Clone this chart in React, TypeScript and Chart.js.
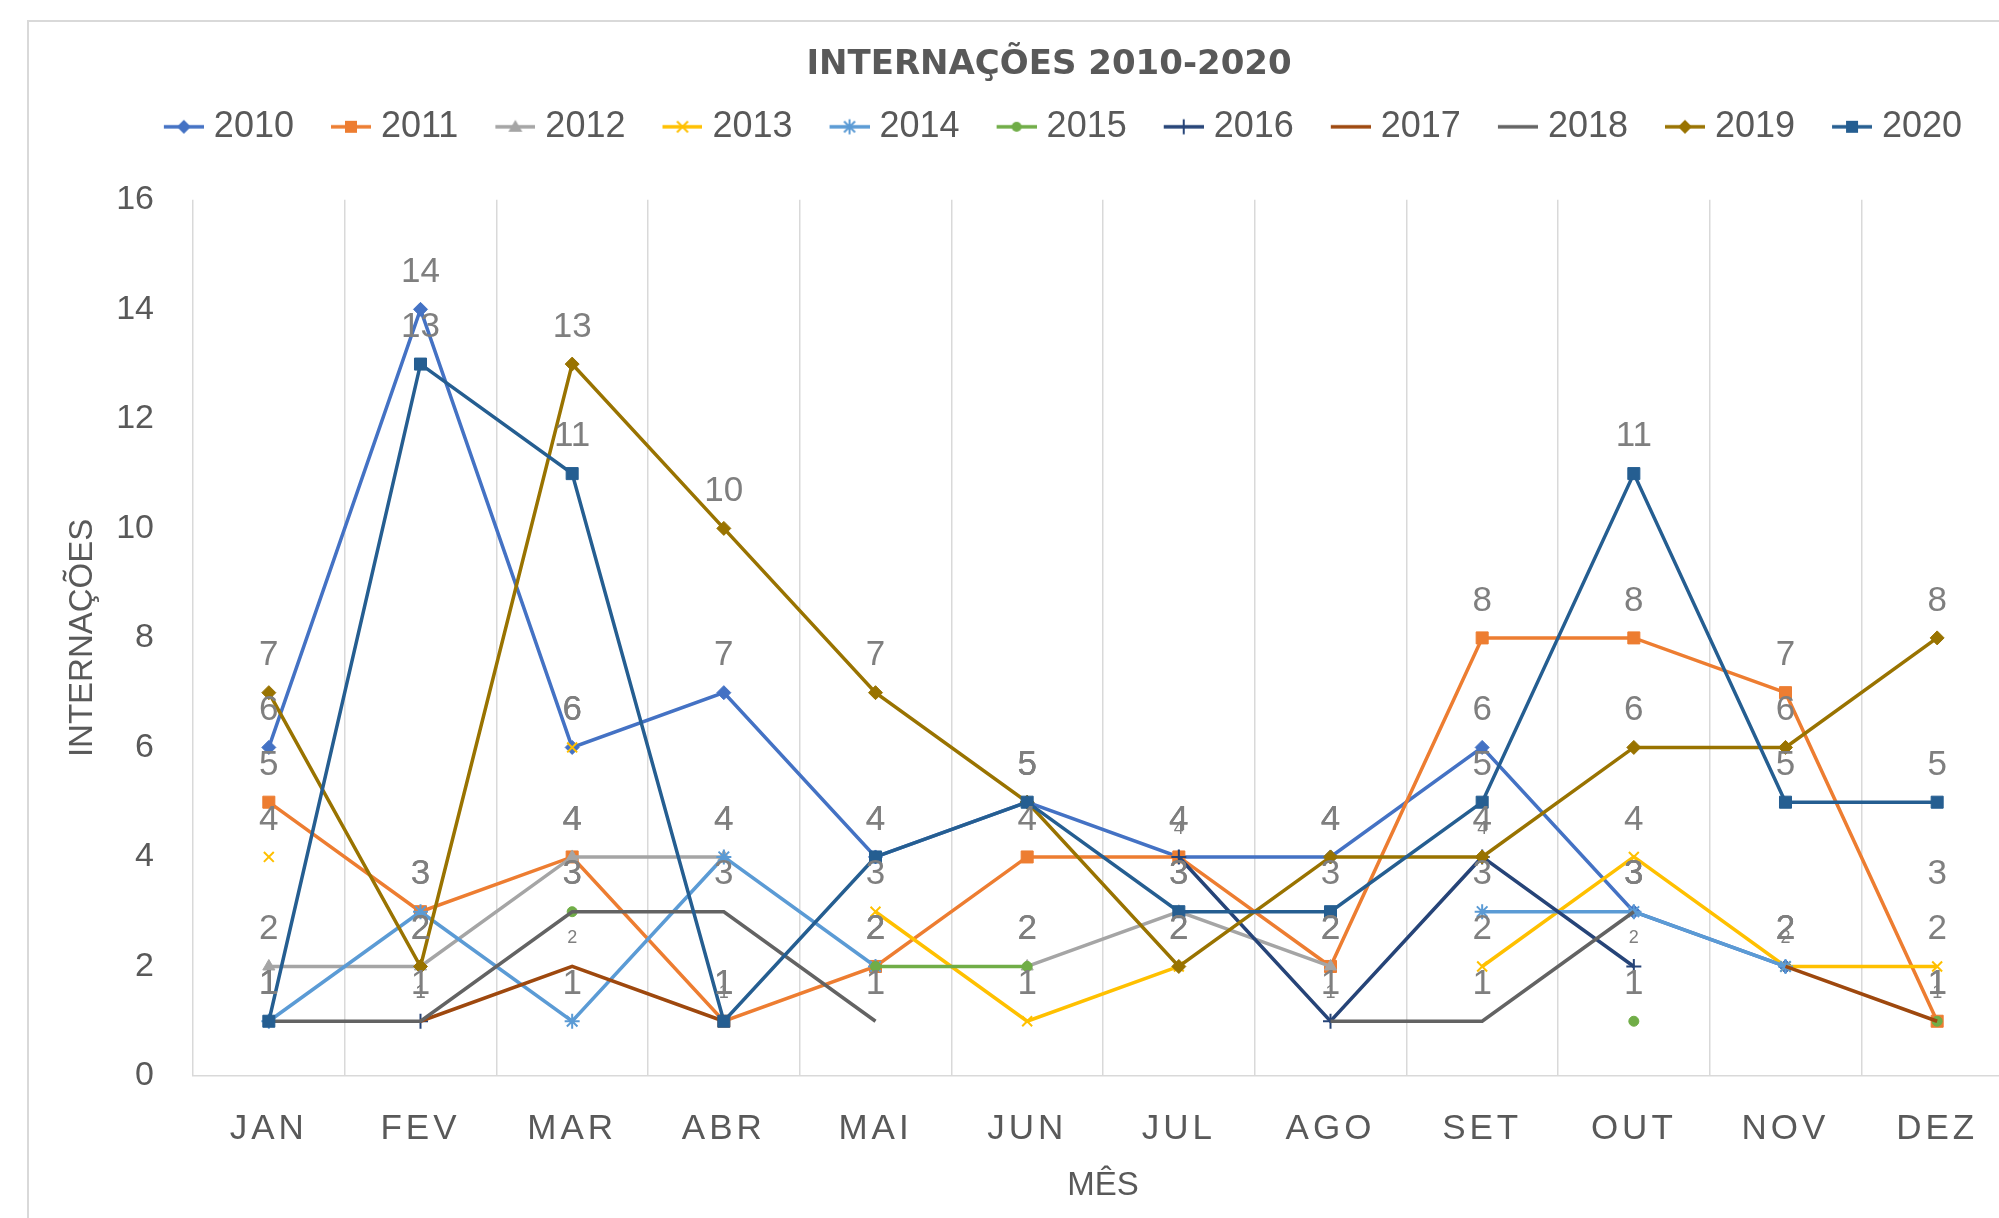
import React, { useEffect, useRef } from 'react';
import { Chart, registerables } from 'chart.js';

Chart.register(...registerables);

// ---------- DATA ----------
const MONTHS = ['JAN', 'FEV', 'MAR', 'ABR', 'MAI', 'JUN', 'JUL', 'AGO', 'SET', 'OUT', 'NOV', 'DEZ'];
const Y_TICK_VALUES = [0, 2, 4, 6, 8, 10, 12, 14, 16];
const YEARS = ['2010', '2011', '2012', '2013', '2014', '2015', '2016', '2017', '2018', '2019', '2020'];

const V2010 = [6, 14, 6, 7, 4, 5, 4, 4, 6, 3, 2, null];
const V2011 = [5, 3, 4, 1, 2, 4, 4, 2, 8, 8, 7, 1];
const V2012 = [2, 2, 4, 4, null, 2, 3, 2, null, null, null, null];
const V2013 = [4, null, 6, null, 3, 1, 2, null, 2, 4, 2, 2];
const V2014 = [1, 3, 1, 4, 2, null, null, null, 3, 3, 2, null];
const V2015 = [null, null, 3, null, 2, 2, null, null, null, 1, null, 1];
const V2016 = [null, 1, null, null, null, null, 4, 1, 4, 2, null, null];
const V2017 = [null, 1, 2, 1, null, null, null, null, null, null, 2, 1];
const V2018 = [1, 1, 3, 3, 1, null, null, 1, 1, 3, null, 3];
const V2019 = [7, 2, 13, 10, 7, 5, 2, 4, 4, 6, 6, 8];
const V2020 = [1, 13, 11, 1, 4, 5, 3, 3, 5, 11, 5, 5];

const SERIES_VALUES = [V2010, V2011, V2012, V2013, V2014, V2015, V2016, V2017, V2018, V2019, V2020];
const COLORS = ['#4472C4', '#ED7D31', '#A5A5A5', '#FFC000', '#5B9BD5', '#70AD47', '#264478', '#9E480E', '#636363', '#997300', '#255E91'];
const MARKERS = ['rectRot', 'rect', 'triangle', 'crossRot', 'star', 'circle', 'cross', 'none', 'none', 'rectRot', 'rect'];
const SMALL_LABEL_YEARS = ['2016', '2017'];

const TITLE = 'INTERNAÇÕES 2010-2020';
const X_TITLE = 'MÊS';
const Y_TITLE = 'INTERNAÇÕES';

// ---------- STYLE ----------
const W = 2040;
const H = 1240;
const PLOT_LEFT = 164;
const PLOT_RIGHT = 1984;
const FONT = "'Liberation Sans', Arial, sans-serif";
const TEXT = '#595959';

const markerRadius = (m: string) => {
  switch (m) {
    case 'rectRot': return 7;
    case 'rect': return 8.5;
    case 'triangle': return 7;
    case 'crossRot': return 7;
    case 'star': return 7.5;
    case 'circle': return 5;
    case 'cross': return 7.5;
    default: return 0;
  }
};

function drawMarker(g: CanvasRenderingContext2D, m: string, cx: number, cy: number, color: string) {
  g.fillStyle = color;
  g.strokeStyle = color;
  g.lineWidth = 2;
  g.beginPath();
  switch (m) {
    case 'rectRot':
      g.moveTo(cx, cy - 7); g.lineTo(cx + 7, cy); g.lineTo(cx, cy + 7); g.lineTo(cx - 7, cy); g.closePath(); g.fill();
      break;
    case 'rect':
      g.rect(cx - 6, cy - 6, 12, 12); g.fill();
      break;
    case 'triangle':
      g.moveTo(cx, cy - 7); g.lineTo(cx + 7, cy + 5); g.lineTo(cx - 7, cy + 5); g.closePath(); g.fill();
      break;
    case 'crossRot':
      g.moveTo(cx - 5.5, cy - 5.5); g.lineTo(cx + 5.5, cy + 5.5); g.moveTo(cx + 5.5, cy - 5.5); g.lineTo(cx - 5.5, cy + 5.5); g.stroke();
      break;
    case 'star':
      g.moveTo(cx - 5.5, cy - 5.5); g.lineTo(cx + 5.5, cy + 5.5); g.moveTo(cx + 5.5, cy - 5.5); g.lineTo(cx - 5.5, cy + 5.5);
      g.moveTo(cx, cy - 7.5); g.lineTo(cx, cy + 7.5); g.moveTo(cx - 7.5, cy); g.lineTo(cx + 7.5, cy); g.stroke();
      break;
    case 'circle':
      g.arc(cx, cy, 5, 0, Math.PI * 2); g.fill();
      break;
    case 'cross':
      g.moveTo(cx, cy - 7.5); g.lineTo(cx, cy + 7.5); g.moveTo(cx - 7.5, cy); g.lineTo(cx + 7.5, cy); g.stroke();
      break;
    default:
      break;
  }
}

function makeLegendImage(color: string, marker: string) {
  const c = document.createElement('canvas');
  c.width = 76;
  c.height = 24;
  const g = c.getContext('2d') as CanvasRenderingContext2D;
  g.strokeStyle = color;
  g.lineWidth = 3.5;
  g.beginPath();
  g.moveTo(36, 12);
  g.lineTo(76, 12);
  g.stroke();
  drawMarker(g, marker, 56, 12, color);
  return c;
}

const valueLabelPlugin = {
  id: 'valueLabels',
  afterDatasetsDraw(chart: any) {
    const ctx = chart.ctx as CanvasRenderingContext2D;
    ctx.save();
    ctx.textAlign = 'center';
    ctx.textBaseline = 'middle';
    ctx.fillStyle = '#7f7f7f';
    chart.data.datasets.forEach((ds: any, i: number) => {
      const meta = chart.getDatasetMeta(i);
      const small = SMALL_LABEL_YEARS.includes(ds.label);
      ctx.font = small ? `18px ${FONT}` : `35px ${FONT}`;
      meta.data.forEach((pt: any, j: number) => {
        const v = ds.data[j];
        if (v === null || v === undefined) return;
        ctx.fillText(String(v), pt.x, pt.y - (small ? 28 : 37));
      });
    });
    ctx.restore();
  },
};

export default function App() {
  const ref = useRef<HTMLCanvasElement | null>(null);

  useEffect(() => {
    if (!ref.current) return;
    const legendImages = YEARS.map((_, i) => makeLegendImage(COLORS[i], MARKERS[i]));

    const datasets = YEARS.map((year, i) => {
      const m = MARKERS[i];
      const r = markerRadius(m);
      const lineMarker = m === 'cross' || m === 'crossRot' || m === 'star';
      return {
        label: year,
        data: SERIES_VALUES[i],
        borderColor: COLORS[i],
        backgroundColor: COLORS[i],
        borderWidth: 3.5,
        pointStyle: m === 'none' ? 'circle' : m,
        pointRadius: r,
        pointHoverRadius: r,
        pointBorderColor: COLORS[i],
        pointBackgroundColor: COLORS[i],
        pointBorderWidth: lineMarker ? 2 : 1,
        spanGaps: false,
        tension: 0,
        fill: false,
        order: 20 - i,
        yAxisID: 'y',
      };
    });

    const chart = new Chart(ref.current, {
      type: 'line',
      data: { labels: MONTHS, datasets: datasets as any },
      options: {
        responsive: false,
        animation: false,
        devicePixelRatio: 1,
        events: [],
        layout: { padding: { left: 0, right: 0, top: 0, bottom: 36 } },
        plugins: {
          title: {
            display: true,
            text: TITLE,
            color: TEXT,
            font: { family: "'DejaVu Sans', sans-serif", size: 34, weight: 'bold', lineHeight: 1.2 },
            padding: { top: 23, bottom: 14 },
            weight: 2000,
          } as any,
          legend: {
            display: true,
            position: 'top',
            weight: 1800,
            labels: {
              usePointStyle: true,
              pointStyleWidth: 60,
              padding: 9,
              color: TEXT,
              font: { family: FONT, size: 36 },
              sort: (a: any, b: any) => a.datasetIndex - b.datasetIndex,
              generateLabels: (c: any) => {
                const items = (Chart.defaults.plugins.legend.labels as any).generateLabels(c);
                return items.map((it: any) => ({ ...it, pointStyle: legendImages[it.datasetIndex] }));
              },
            },
          } as any,
          subtitle: {
            display: true,
            text: ' ',
            color: 'rgba(0,0,0,0)',
            font: { size: 10, lineHeight: 1 },
            padding: { top: 35, bottom: 0 },
            weight: 1500,
          } as any,
          tooltip: { enabled: false },
        },
        scales: {
          x: {
            offset: true,
            grid: { offset: true, color: '#d9d9d9', lineWidth: 1.5, drawTicks: false },
            border: { color: '#d9d9d9', width: 1.5 },
            ticks: { color: TEXT, font: { family: FONT, size: 35 }, padding: 32, autoSkip: false, maxRotation: 0 },
            title: { display: true, text: X_TITLE, color: TEXT, font: { family: FONT, size: 33 }, padding: { top: 0, bottom: 20 } },
            afterFit: (s: any) => { s.height = 150; },
          },
          y: {
            position: 'left',
            min: 0,
            max: 16,
            grid: { display: false, drawTicks: false },
            border: { display: false },
            ticks: { color: TEXT, font: { family: FONT, size: 34 }, padding: 39 },
            afterBuildTicks: (s: any) => { s.ticks = Y_TICK_VALUES.map((v) => ({ value: v })); },
            title: { display: true, text: Y_TITLE, color: TEXT, font: { family: FONT, size: 33 }, padding: { top: 34, bottom: 0 } },
            afterFit: (s: any) => { s.width = PLOT_LEFT; },
          },
          yRight: {
            type: 'linear',
            position: 'right',
            display: true,
            grid: { display: false, drawTicks: false },
            border: { display: false },
            ticks: { display: false },
            afterFit: (s: any) => { s.width = W - PLOT_RIGHT; },
          },
        },
      } as any,
      plugins: [valueLabelPlugin],
    });

    // letter-spaced month labels (as in the reference)
    const xs: any = chart.scales.x;
    const origDrawLabels = xs.drawLabels.bind(xs);
    xs.drawLabels = (area: any) => {
      const ctx: any = chart.ctx;
      ctx.save();
      ctx.letterSpacing = '4px';
      origDrawLabels(area);
      ctx.restore();
    };
    chart.draw();

    return () => chart.destroy();
  }, []);

  return (
    <div style={{ position: 'fixed', left: 0, top: 0, width: '100vw', height: '100vh', overflow: 'hidden', background: '#fff' }}>
      <div style={{ position: 'absolute', left: 27, top: 20, width: W, height: H, border: '2px solid #d9d9d9' }}>
        <canvas ref={ref} width={W} height={H} style={{ display: 'block', width: W, height: H }} />
      </div>
    </div>
  );
}
